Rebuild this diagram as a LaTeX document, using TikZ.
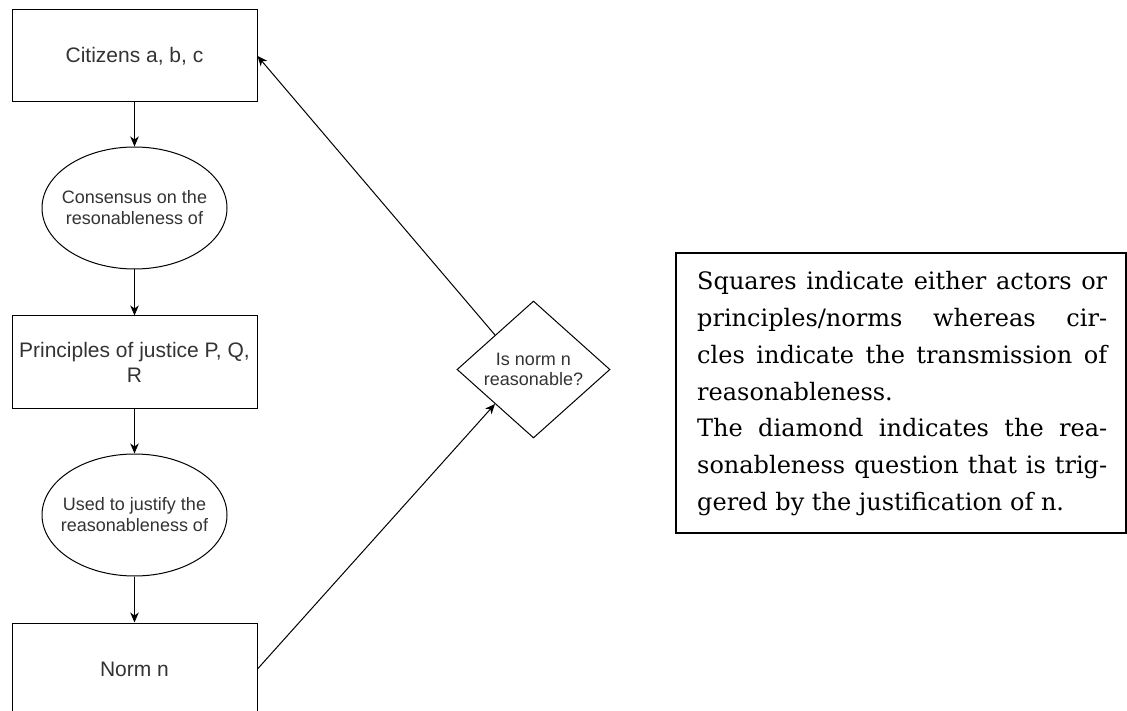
\documentclass[tikz,border=0pt]{standalone}
\usepackage{fontspec}
\setmainfont{Liberation Sans}
\newfontfamily\notefont{DejaVu Serif}
\usetikzlibrary{shapes.geometric,arrows.meta}
\definecolor{txt}{HTML}{333333}
\begin{document}
\begin{tikzpicture}[x=1pt,y=-1pt,
  fc/.style={draw=black, line width=1pt, text=txt, font=\fontsize{21}{25}\selectfont, align=center, inner sep=0pt},
  boxnode/.style={fc, rectangle, minimum width=245pt, minimum height=92pt},
  ellnode/.style={fc, ellipse, inner xsep=-14pt, minimum width=185pt, minimum height=122pt, font=\fontsize{18}{21}\selectfont},
  decnode/.style={fc, diamond, minimum width=153pt, minimum height=137pt, shape aspect=1.1, font=\fontsize{18}{20}\selectfont},
  link/.style={draw=black, line width=1pt, -{Stealth[length=10pt,width=8.5pt,inset=3pt]}},
  notebox/.style={draw=black, line width=1.6pt, rectangle, minimum width=450pt, minimum height=280pt, inner sep=0pt},
  notetxt/.style={anchor=base west, inner sep=0pt, text width=410pt, align=left, text=black, font=\notefont\fontsize{24}{36.7}\selectfont}
]
\useasboundingbox (0,0) rectangle (1127,711);

\node[boxnode] (cit) at (134.5,56) {Citizens a, b, c};
\node[ellnode] (cons) at (134.5,208) {Consensus on the\\resonableness of};
\node[boxnode] (prin) at (134.5,362) {Principles of justice P, Q,\\R};
\node[ellnode] (used) at (134.5,515) {Used to justify the\\reasonableness of};
\node[boxnode] (norm) at (134.5,669) {Norm n};
\node[decnode] (dec) at (533.5,369.5) {Is norm n\\reasonable?};

\draw[link] (cit.south) -- (cons.north);
\draw[link] (cons.south) -- (prin.north);
\draw[link] (prin.south) -- (used.north);
\draw[link] (used.south) -- (norm.north);
\draw[link] (norm.east) -- (dec.south west);
\draw[link] (dec.north west) -- (cit.east);

\node[notebox] (note) at (901,393) {};
\node[notetxt] (notetext) at (697,290) {\spaceskip=0pt\xspaceskip=0pt%
\makebox[\linewidth][s]{Squares indicate either actors or}\\
\makebox[\linewidth][s]{principles/norms whereas cir-}\\
\makebox[\linewidth][s]{cles indicate the transmission of}\\
reasonableness.\\
\makebox[\linewidth][s]{The diamond indicates the rea-}\\
\makebox[\linewidth][s]{sonableness question that is trig-}\\
gered by the justification of n.};
\end{tikzpicture}
\end{document}
